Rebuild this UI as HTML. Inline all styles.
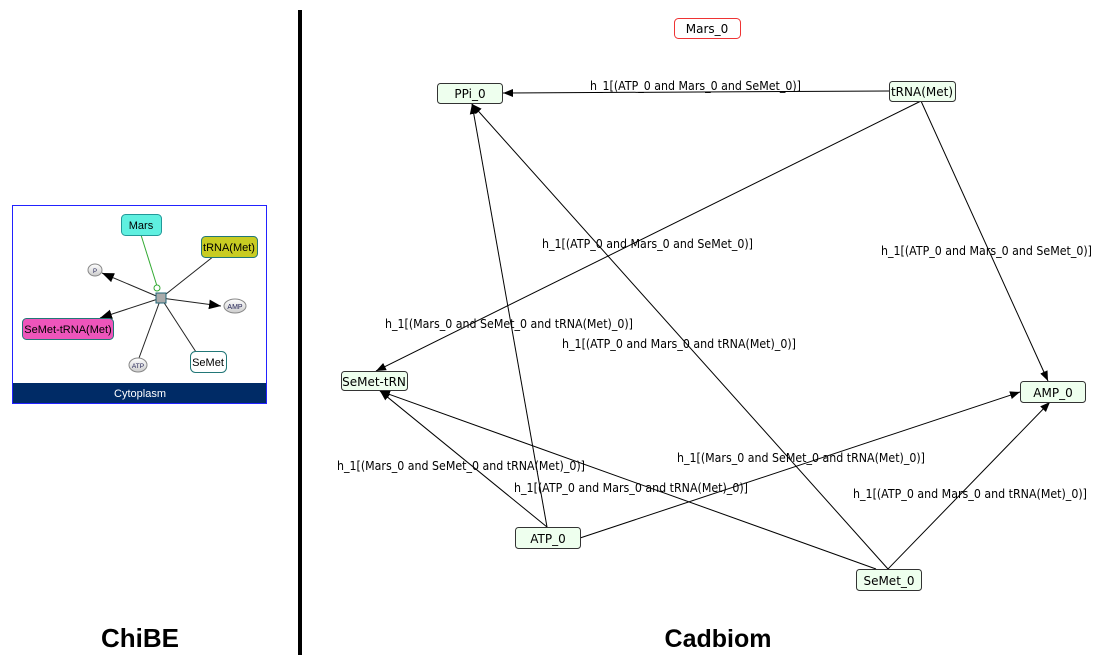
<!DOCTYPE html>
<html><head><meta charset="utf-8"><style>
html,body{margin:0;padding:0;background:#fff;}
svg{display:block;font-family:"Liberation Sans","DejaVu Sans",sans-serif;}
</style></head><body>
<svg width="1114" height="663" viewBox="0 0 1114 663" xmlns="http://www.w3.org/2000/svg">
<defs>
<marker id="a" viewBox="0 0 10 10" refX="10" refY="5" markerWidth="10" markerHeight="10" markerUnits="userSpaceOnUse" orient="auto"><path d="M0,1 L10,5 L0,9 z" fill="#000"/></marker>
<marker id="b" viewBox="0 0 10 10" refX="10" refY="5" markerWidth="12" markerHeight="12" markerUnits="userSpaceOnUse" orient="auto"><path d="M0,1 L10,5 L0,9 z" fill="#000"/></marker>
<linearGradient id="g" x1="0" y1="0" x2="0" y2="1"><stop offset="0" stop-color="#fff"/><stop offset="1" stop-color="#ccc"/></linearGradient>
</defs>
<rect x="298" y="10" width="4" height="645" fill="#000"/>
<rect x="12.5" y="205.5" width="254" height="198" fill="#fff" stroke="#2222ff"/>
<rect x="13" y="383" width="253" height="20" fill="#002b66"/>
<text x="140" y="397" font-size="11" fill="#fff" text-anchor="middle">Cytoplasm</text>
<line x1="141" y1="235" x2="157" y2="286" stroke="#3a3"/>
<circle cx="157" cy="288" r="3" fill="#fff" stroke="#3a3"/>
<line x1="161" y1="298" x2="214" y2="256" stroke="#222"/>
<line x1="161" y1="298" x2="102" y2="273" stroke="#222" marker-end="url(#b)"/>
<line x1="161" y1="298" x2="221" y2="306" stroke="#222" marker-end="url(#b)"/>
<line x1="161" y1="298" x2="100" y2="318" stroke="#222" marker-end="url(#b)"/>
<line x1="161" y1="298" x2="139" y2="358" stroke="#222"/>
<line x1="161" y1="298" x2="196" y2="352" stroke="#222"/>
<rect x="156" y="293" width="10" height="10" fill="#aaa" stroke="#267"/>
<rect x="121.5" y="214.5" width="40" height="21" rx="4" fill="#5ff0e0" stroke="#299"/>
<text x="141" y="229" font-size="11" text-anchor="middle">Mars</text>
<rect x="201.5" y="236.5" width="56" height="21" rx="4" fill="#c8cc22" stroke="#277"/>
<text x="229" y="251" font-size="11" text-anchor="middle">tRNA(Met)</text>
<rect x="22.5" y="318.5" width="91" height="21" rx="4" fill="#ee55bb" stroke="#277"/>
<text x="68" y="333" font-size="11" text-anchor="middle">SeMet-tRNA(Met)</text>
<rect x="190.5" y="351.5" width="36" height="21" rx="5" fill="#fff" stroke="#277"/>
<text x="208" y="366" font-size="11" text-anchor="middle">SeMet</text>
<ellipse cx="95" cy="270" rx="7" ry="6" fill="url(#g)" stroke="#888"/>
<text x="95" y="273" font-size="6" text-anchor="middle" fill="#225">P</text>
<ellipse cx="235" cy="306" rx="11" ry="7" fill="url(#g)" stroke="#888"/>
<text x="235" y="309" font-size="7" text-anchor="middle" fill="#225">AMP</text>
<ellipse cx="138" cy="365" rx="9" ry="7" fill="url(#g)" stroke="#888"/>
<text x="138" y="368" font-size="6.5" text-anchor="middle" fill="#225">ATP</text>
<text x="140" y="647" font-size="26" font-weight="bold" text-anchor="middle">ChiBE</text>
<text x="718" y="647" font-size="25" font-weight="bold" text-anchor="middle">Cadbiom</text>
<g stroke="#000" stroke-width="1" fill="none">
<line x1="889" y1="91" x2="503" y2="93" marker-end="url(#a)"/>
<line x1="921" y1="101" x2="376" y2="371" marker-end="url(#a)"/>
<line x1="921" y1="101" x2="1048" y2="381" marker-end="url(#a)"/>
<line x1="888" y1="569" x2="472" y2="104" marker-end="url(#a)"/>
<line x1="876" y1="569" x2="380" y2="391" marker-end="url(#a)"/>
<line x1="888" y1="569" x2="1050" y2="402" marker-end="url(#a)"/>
<line x1="547" y1="527" x2="472" y2="104" marker-end="url(#a)"/>
<line x1="547" y1="527" x2="380" y2="391" marker-end="url(#a)"/>
<line x1="580" y1="538" x2="1020" y2="392" marker-end="url(#a)"/>
</g>
<g font-size="12" fill="#000" font-family="'DejaVu Sans','Liberation Sans',sans-serif" lengthAdjust="spacingAndGlyphs">
<text x="590" y="90" textLength="211" lengthAdjust="spacingAndGlyphs">h_1[(ATP_0 and Mars_0 and SeMet_0)]</text>
<text x="542" y="248" textLength="211" lengthAdjust="spacingAndGlyphs">h_1[(ATP_0 and Mars_0 and SeMet_0)]</text>
<text x="881" y="255" textLength="211" lengthAdjust="spacingAndGlyphs">h_1[(ATP_0 and Mars_0 and SeMet_0)]</text>
<text x="385" y="328" textLength="248" lengthAdjust="spacingAndGlyphs">h_1[(Mars_0 and SeMet_0 and tRNA(Met)_0)]</text>
<text x="562" y="348" textLength="234" lengthAdjust="spacingAndGlyphs">h_1[(ATP_0 and Mars_0 and tRNA(Met)_0)]</text>
<text x="677" y="462" textLength="248" lengthAdjust="spacingAndGlyphs">h_1[(Mars_0 and SeMet_0 and tRNA(Met)_0)]</text>
<text x="337" y="470" textLength="248" lengthAdjust="spacingAndGlyphs">h_1[(Mars_0 and SeMet_0 and tRNA(Met)_0)]</text>
<text x="514" y="492" textLength="234" lengthAdjust="spacingAndGlyphs">h_1[(ATP_0 and Mars_0 and tRNA(Met)_0)]</text>
<text x="853" y="498" textLength="234" lengthAdjust="spacingAndGlyphs">h_1[(ATP_0 and Mars_0 and tRNA(Met)_0)]</text>
</g>
<g font-size="12" text-anchor="middle" font-family="'DejaVu Sans','Liberation Sans',sans-serif">
<rect x="674.5" y="18.5" width="66" height="20" rx="4" fill="#fff" stroke="#e33"/>
<text x="707" y="33">Mars_0</text>
<rect x="437.5" y="83.5" width="65" height="20" rx="3" fill="#efe" stroke="#333"/>
<text x="470" y="98">PPi_0</text>
<rect x="889.5" y="81.5" width="66" height="20" rx="3" fill="#efe" stroke="#333"/>
<text x="922" y="96">tRNA(Met)</text>
<rect x="341.5" y="371.5" width="66" height="19" rx="3" fill="#efe" stroke="#333"/>
<text x="374" y="386">SeMet-tRN</text>
<rect x="1020.5" y="381.5" width="65" height="21" rx="3" fill="#efe" stroke="#333"/>
<text x="1053" y="397">AMP_0</text>
<rect x="515.5" y="527.5" width="65" height="21" rx="3" fill="#efe" stroke="#333"/>
<text x="548" y="543">ATP_0</text>
<rect x="856.5" y="569.5" width="65" height="21" rx="3" fill="#efe" stroke="#333"/>
<text x="889" y="585">SeMet_0</text>
</g>
</svg>
</body></html>
